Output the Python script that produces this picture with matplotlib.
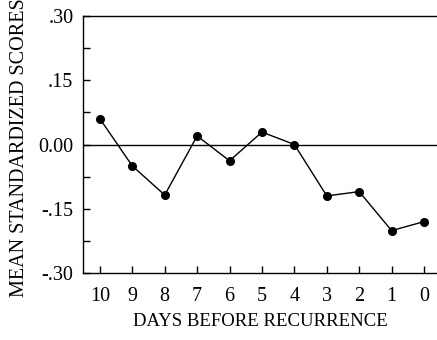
import matplotlib.pyplot as plt
from matplotlib.ticker import FixedLocator

days = [10, 9, 8, 7, 6, 5, 4, 3, 2, 1, 0]
scores = [0.060, -0.050, -0.118, 0.020, -0.038, 0.029, 0.000, -0.120, -0.110, -0.201, -0.180]
yticks = [-0.30, -0.15, 0.00, 0.15, 0.30]
ylabels = ['-.30', '-.15', '0.00', '.15', '.30']

plt.rcParams['font.family'] = ['Liberation Serif', 'DejaVu Serif']

fig = plt.figure(figsize=(4.37, 3.4), dpi=100)
ax = fig.add_axes([0.19, 0.197, 0.81, 0.756])

# zero reference line and the series
ax.axhline(0, color='black', lw=1.0)
ax.plot(days, scores, color='black', lw=1.0, marker='o', markersize=5.5)

ax.set_xlim(10.52, -0.4)
ax.set_ylim(-0.30, 0.30)
ax.set_xticks(days)
ax.set_xticklabels([str(d) for d in days])
ax.set_yticks(yticks)
ax.set_yticklabels(ylabels)
ax.yaxis.set_minor_locator(FixedLocator([-0.225, -0.075, 0.075, 0.225]))

ax.spines['right'].set_visible(False)
for s in ['left', 'bottom', 'top']:
    ax.spines[s].set_linewidth(1.0)

ax.tick_params(axis='both', which='both', direction='in', length=5, width=1,
               labelsize=14.5, top=False, right=False)
ax.tick_params(axis='y', pad=7)
ax.tick_params(axis='x', pad=10)

ax.set_xlabel('DAYS BEFORE RECURRENCE', fontsize=13.5, labelpad=5)
ax.set_ylabel('MEAN STANDARDIZED SCORES', fontsize=14.5)
ax.yaxis.set_label_coords(-0.153, 0.486)

fig.savefig('out.png', dpi=100)
